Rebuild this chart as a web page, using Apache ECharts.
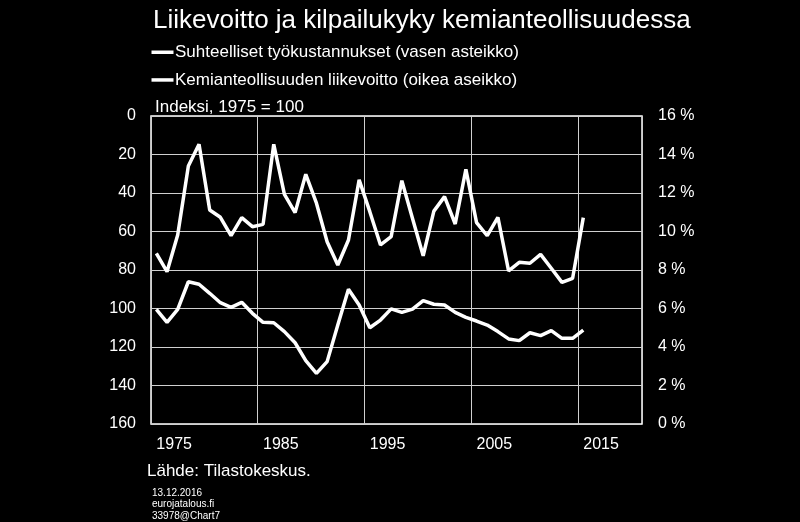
<!DOCTYPE html>
<html><head><meta charset="utf-8">
<script src="https://cdn.jsdelivr.net/npm/echarts@6/dist/echarts.min.js"></script>
<style>html,body{margin:0;padding:0;background:#000;}#c{width:800px;height:522px;}</style>
</head><body><div id="c"></div>
<script>
const years = [];
for (let y = 1975; y <= 2020; y++) years.push(String(y));
const xTickLabels = ['1975','1985','1995','2005','2015'];
const laborCost = [100.4,107.2,100.4,86.1,87.4,92.1,97.0,99.4,96.8,102.5,107.2,107.4,112.0,117.8,127.1,133.7,127.6,108.6,90.0,98.2,110.0,106.0,100.2,102.0,100.3,95.9,97.8,98.2,102.0,104.6,106.5,108.6,112.0,115.8,116.7,112.6,114.1,111.5,115.5,115.5,111.2];
const profit = [8.87,7.91,9.82,13.4,14.53,11.12,10.74,9.78,10.72,10.25,10.37,14.53,11.93,10.98,12.97,11.47,9.47,8.26,9.56,12.68,11.03,9.30,9.73,12.64,10.68,8.74,11.06,11.81,10.39,13.23,10.46,9.78,10.74,7.95,8.40,8.35,8.81,8.09,7.36,7.57,10.72];
const leftTicks = [0,20,40,60,80,100,120,140,160];
const rightTicks = [0,2,4,6,8,10,12,14,16];
const seriesNames = ['Suhteelliset työkustannukset (vasen asteikko)','Kemianteollisuuden liikevoitto (oikea aseikko)'];

const chart = echarts.init(document.getElementById('c'), null, {renderer:'canvas'});
const font = 'Liberation Sans, Arial, sans-serif';
chart.setOption({
  backgroundColor:'#000',
  animation:false,
  textStyle:{fontFamily:font},
  title:{text:'Liikevoitto ja kilpailukyky kemianteollisuudessa',left:148,top:3,
    textStyle:{color:'#fff',fontSize:26,fontWeight:'normal',fontFamily:font}},
  graphic:[
    {type:'rect',shape:{x:151.5,y:50.5,width:22,height:3.5},style:{fill:'#fff'}},
    {type:'text',x:175,y:52.3,style:{text:seriesNames[0],fill:'#fff',font:'17px '+font,textVerticalAlign:'middle'}},
    {type:'rect',shape:{x:151.5,y:78.2,width:22,height:3.5},style:{fill:'#fff'}},
    {type:'text',x:175,y:80,style:{text:seriesNames[1],fill:'#fff',font:'17px '+font,textVerticalAlign:'middle'}},
    {type:'text',x:155,y:107,style:{text:'Indeksi, 1975 = 100',fill:'#fff',font:'17px '+font,textVerticalAlign:'middle'}},
    {type:'text',x:147,y:471,style:{text:'Lähde: Tilastokeskus.',fill:'#fff',font:'17px '+font,textVerticalAlign:'middle'}},
    {type:'text',left:152,top:487,style:{text:'13.12.2016\neurojatalous.fi\n33978@Chart7',fill:'#fff',font:'10px '+font,lineHeight:11.7}}
  ],
  grid:{left:151,right:158,top:116,bottom:98,show:true,borderColor:'#fff',borderWidth:1.5,containLabel:false},
  xAxis:{type:'category',data:years,boundaryGap:true,
    axisLine:{show:false},axisTick:{show:false},
    axisLabel:{color:'#fff',fontSize:16,fontFamily:font,margin:13,align:'left',
      interval:(i,v)=>xTickLabels.indexOf(v)>=0,formatter:v=>xTickLabels.indexOf(v)>=0?v:''},
    splitLine:{show:true,interval:(i)=>i%10===0,lineStyle:{color:'#d0d0d0',width:1}}},
  yAxis:[
    {type:'value',inverse:true,min:leftTicks[0],max:leftTicks[leftTicks.length-1],interval:20,
      axisLine:{show:false},axisTick:{show:false},
      axisLabel:{color:'#fff',fontSize:16,fontFamily:font,margin:15},
      splitLine:{show:true,lineStyle:{color:'#d0d0d0',width:1}}},
    {type:'value',min:rightTicks[0],max:rightTicks[rightTicks.length-1],interval:2,
      axisLine:{show:false},axisTick:{show:false},
      axisLabel:{color:'#fff',fontSize:16,fontFamily:font,margin:16,formatter:'{value} %'},
      splitLine:{show:false}}
  ],
  series:[
    {name:seriesNames[0],type:'line',yAxisIndex:0,data:laborCost,symbol:'none',
      lineStyle:{color:'#fff',width:3.5},itemStyle:{color:'#fff'}},
    {name:seriesNames[1],type:'line',yAxisIndex:1,data:profit,symbol:'none',
      lineStyle:{color:'#fff',width:3.5},itemStyle:{color:'#fff'}}
  ]
});
</script></body></html>
